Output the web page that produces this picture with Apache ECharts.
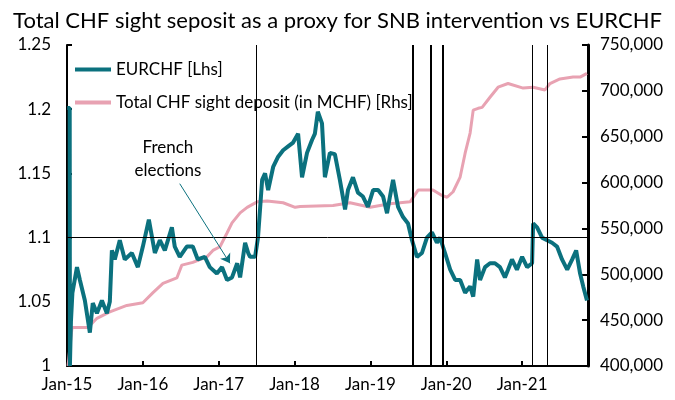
<!DOCTYPE html>
<html><head><meta charset="utf-8">
<script src="https://cdn.jsdelivr.net/npm/echarts@6/dist/echarts.min.js"></script>
<style>html,body{margin:0;padding:0;background:#fff}#c{width:675px;height:400px}</style>
</head><body><div id="c"></div>
<script>
// EURCHF (left axis)
const eurDates = ['2015-01-02','2015-01-14','2015-01-15','2015-01-20','2015-01-27','2015-02-18','2015-03-04','2015-03-28','2015-04-21','2015-05-05','2015-05-25','2015-06-18','2015-07-12','2015-07-26','2015-08-05','2015-08-19','2015-09-12','2015-10-06','2015-11-09','2015-12-08',
'2016-01-01','2016-01-30','2016-02-28','2016-03-23','2016-04-16','2016-05-20','2016-06-03','2016-06-27','2016-07-31','2016-08-29','2016-09-22','2016-10-26','2016-11-19','2016-12-23',
'2017-01-17','2017-02-10','2017-03-06','2017-03-31','2017-04-14','2017-05-08','2017-05-23','2017-06-01','2017-06-25','2017-07-09','2017-07-29','2017-08-12','2017-08-27','2017-09-20','2017-10-14','2017-11-07','2017-12-01','2017-12-25',
'2018-01-18','2018-02-06','2018-03-02','2018-03-26','2018-04-09','2018-04-23','2018-05-13','2018-05-27','2018-06-20','2018-07-14','2018-08-07','2018-09-01','2018-09-15','2018-10-09','2018-11-02','2018-11-26','2018-12-20',
'2019-01-14','2019-02-07','2019-03-03','2019-03-22','2019-04-05','2019-04-20','2019-05-14','2019-06-07','2019-07-01','2019-07-20','2019-08-13','2019-09-06','2019-09-30','2019-10-24','2019-11-17','2019-12-02','2019-12-26',
'2020-01-20','2020-02-13','2020-03-08','2020-04-01','2020-04-25','2020-05-10','2020-05-29','2020-06-12','2020-07-06','2020-07-30','2020-08-23','2020-09-16','2020-10-10','2020-10-25','2020-11-13','2020-12-07',
'2021-01-01','2021-01-25','2021-02-18','2021-02-23','2021-03-14','2021-04-07','2021-05-01','2021-05-25','2021-06-18','2021-07-12','2021-08-06','2021-08-30','2021-09-18','2021-10-07','2021-10-22','2021-11-09'];
const eurValues = [1.201,1.201,1.000,1.035,1.057,1.077,1.067,1.051,1.026,1.049,1.041,1.051,1.041,1.050,1.090,1.083,1.098,1.083,1.088,1.077,
1.093,1.114,1.088,1.098,1.090,1.108,1.093,1.085,1.093,1.093,1.083,1.085,1.077,1.072,
1.077,1.067,1.069,1.080,1.069,1.096,1.088,1.085,1.085,1.100,1.145,1.150,1.137,1.155,1.163,1.168,1.171,1.174,
1.181,1.147,1.166,1.176,1.181,1.198,1.189,1.147,1.166,1.165,1.145,1.122,1.137,1.147,1.135,1.132,1.124,
1.137,1.137,1.132,1.119,1.132,1.145,1.124,1.116,1.111,1.098,1.085,1.088,1.100,1.104,1.096,1.100,1.088,
1.075,1.067,1.067,1.057,1.062,1.054,1.083,1.067,1.077,1.080,1.080,1.077,1.069,1.075,1.083,1.075,
1.085,1.077,1.080,1.111,1.108,1.100,1.098,1.096,1.093,1.083,1.075,1.083,1.090,1.072,1.062,1.051];

// Total CHF sight deposits, MCHF (right axis)
const sdDates = ['2015-01-06','2015-01-25','2015-04-12','2015-05-25','2015-07-26','2015-10-16','2016-01-01','2016-02-19','2016-04-07','2016-06-13','2016-07-07','2016-08-29','2016-11-05','2016-12-04',
'2017-01-07','2017-02-10','2017-03-06','2017-04-14','2017-05-18','2017-07-05','2017-08-22','2017-11-07','2018-01-04','2018-01-28','2018-07-05','2018-09-25','2018-12-31',
'2019-04-05','2019-07-11','2019-08-19','2019-10-29','2019-12-11','2020-01-05','2020-02-03','2020-03-08','2020-04-01','2020-04-25','2020-05-10','2020-06-03','2020-06-22','2020-07-30','2020-09-07','2020-10-25',
'2021-01-06','2021-02-23','2021-04-21','2021-05-15','2021-07-02','2021-09-03','2021-10-07','2021-11-09'];
const sdValues = [400000,442000,442000,452000,459000,466000,469000,480000,490000,496000,510000,513000,519000,526000,
530000,545000,556000,567000,573000,579000,580000,578000,573000,574000,575000,578000,573000,
577000,579000,592000,592000,586000,584000,590000,606000,632000,654000,679000,681000,682000,693000,704000,708000,
703000,704000,701000,708000,713000,715000,715000,719000];

// Vertical event lines
const eventDates = ['2017-07-04','2019-07-25','2019-10-19','2019-12-16','2021-02-18','2021-05-01'];
const eventWidths = [1,2,2,2,1,1];
// Annotation (data space)
const annotText = 'French\nelections';
const annotAt = ['2016-05-01', 1.161];
const arrowFrom = ['2016-06-27', 1.142];
const arrowTo = ['2017-02-24', 1.080];

const xStartYear = 2015, xEndDate = '2021-11-14';
const leftMin = 1, leftMax = 1.25, leftStep = 0.05;
const rightMin = 400000, rightMax = 750000, rightStep = 50000;

function yr(s){
  const d = new Date(s + 'T00:00:00Z');
  const y = d.getUTCFullYear();
  const start = Date.UTC(y,0,1), end = Date.UTC(y+1,0,1);
  return y + (d.getTime() - start) / (end - start);
}
const eurData = eurDates.map((d,i)=>[yr(d), eurValues[i]]);
const sdData = sdDates.map((d,i)=>[yr(d), sdValues[i]]);

const FONT = 'Lato';
const TEAL = '#0b717e', PINK = '#e8a2b2';

const chart = echarts.init(document.getElementById('c'), null, {renderer:'canvas'});
chart.setOption({
  animation: false,
  textStyle: {fontFamily: FONT},
  title: {text: 'Total CHF sight seposit as a proxy for SNB intervention vs EURCHF', left: 'center', top: 5,
    textStyle: {fontFamily: FONT, fontSize: 22, fontWeight: 'normal', color: '#000'}},
  grid: {left: 67, right: 87, top: 45, bottom: 34},
  legend: {orient: 'vertical', left: 70, top: 56, itemWidth: 36, itemHeight: 4, itemGap: 16,
    textStyle: {fontFamily: FONT, fontSize: 17, color: '#000'},
    data: [{name: 'EURCHF [Lhs]', icon: 'rect', itemStyle:{color:TEAL}}, {name: 'Total CHF sight deposit (in MCHF) [Rhs]', icon:'rect', itemStyle:{color:PINK}}]},
  xAxis: {type: 'value', min: xStartYear, max: yr(xEndDate), interval: 1,
    axisLine: {lineStyle: {color: '#000', width: 2}},
    axisTick: {inside: true, length: 5, lineStyle: {color:'#000', width: 2}},
    splitLine: {show: false},
    axisLabel: {fontFamily: FONT, fontSize: 17, color: '#000', margin: 10, showMaxLabel: false,
      formatter: v => Math.abs(v - Math.round(v)) < 1e-6 ? 'Jan-' + String(Math.round(v)).slice(2) : ''}},
  yAxis: [
    {type: 'value', min: leftMin, max: leftMax, interval: leftStep,
      axisLine: {show: true, lineStyle: {color:'#000', width: 2}},
      axisTick: {show: true, inside: true, length: 5, lineStyle:{color:'#000', width: 2}},
      splitLine: {show: false},
      axisLabel: {fontFamily: FONT, fontSize: 17, color: '#000', margin: 16,
        formatter: v => String(parseFloat(v.toFixed(2)))}},
    {type: 'value', min: rightMin, max: rightMax, interval: rightStep, position: 'right',
      axisLine: {show: true, lineStyle: {color:'#000', width: 3}},
      axisTick: {show: true, inside: true, length: 6, lineStyle:{color:'#000', width: 2}},
      splitLine: {show: false},
      axisLabel: {fontFamily: FONT, fontSize: 17, color: '#000', margin: 12,
        formatter: v => v.toLocaleString('en-US')}}
  ],
  series: [
    {name: 'Total CHF sight deposit (in MCHF) [Rhs]', type: 'line', yAxisIndex: 1, data: sdData,
      symbol: 'none', lineStyle: {color: PINK, width: 3}, itemStyle:{color:PINK}, z: 2},
    {name: 'EURCHF [Lhs]', type: 'line', yAxisIndex: 0, data: eurData,
      symbol: 'none', lineStyle: {color: TEAL, width: 4}, itemStyle:{color:TEAL}, z: 3,
      markLine: {silent: true, symbol: 'none', animation: false, label: {show: false},
        data: [
          {yAxis: 1.1, lineStyle: {color:'#000', width: 1, type:'solid'}},
          ...eventDates.map((d,i)=>({xAxis: yr(d), lineStyle:{color:'#000', width: eventWidths[i], type:'solid'}})),
          [{coord: [yr(arrowFrom[0]), arrowFrom[1]], symbol: 'none', lineStyle:{color: TEAL, width: 1, type:'solid'}},
           {coord: [yr(arrowTo[0]), arrowTo[1]], symbol: 'arrow', symbolSize: 9}]
        ]},
      markPoint: {silent: true, symbol: 'circle', symbolSize: 0,
        data: [{coord: [yr(annotAt[0]), annotAt[1]], label: {show: true, formatter: annotText, fontFamily: FONT, fontSize: 17, color: '#000', lineHeight: 23, align:'center'}}]}
    }
  ]
});
</script>
</body></html>
